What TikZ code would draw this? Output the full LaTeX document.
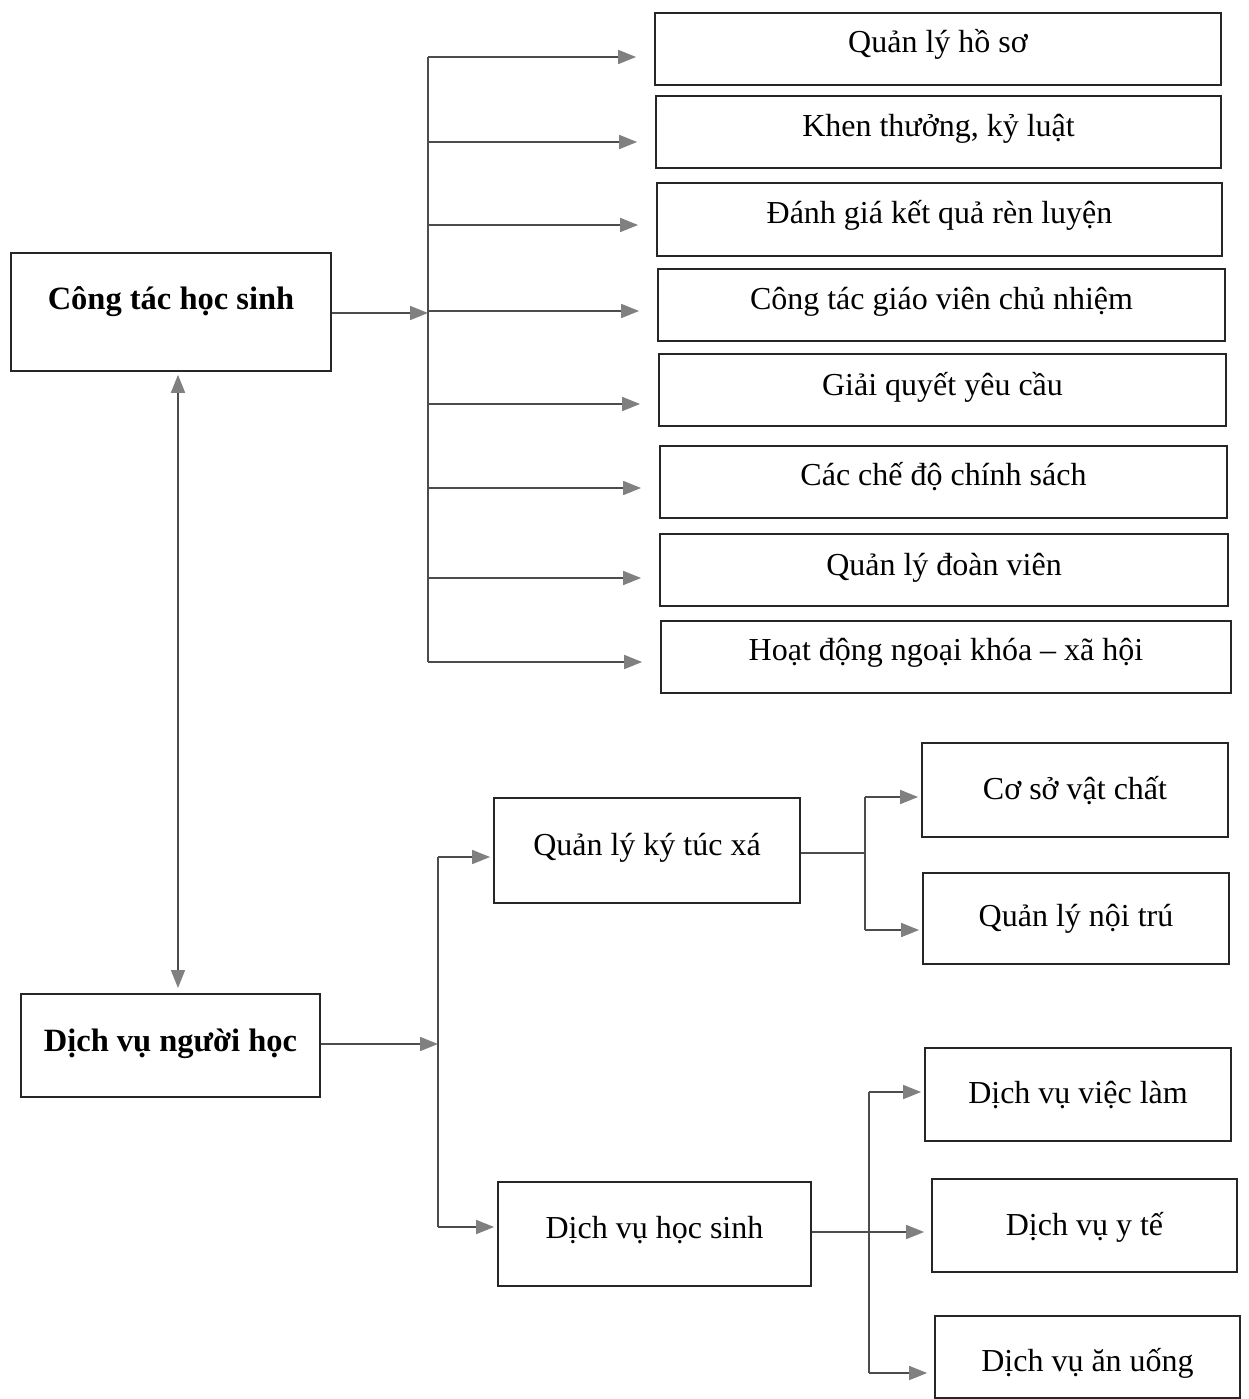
\documentclass[tikz,border=0pt]{standalone}
\usepackage{fontspec}
\setmainfont{Liberation Serif}
\usetikzlibrary{arrows.meta}
\begin{document}
\begin{tikzpicture}[x=1pt,y=-1pt,
  bx/.style={draw=black!85,line width=1.8pt,inner sep=0pt,anchor=north,
    font=\fontsize{32}{37}\selectfont},
  bbx/.style={bx,font=\fontsize{32.5}{37}\selectfont\bfseries},
  conn/.style={draw=black!70,line width=1.7pt},
  arr/.style={conn,-{Triangle[length=18pt,width=14pt,color=black!50]}},
  darr/.style={conn,{Triangle[length=18pt,width=14pt,color=black!50]}-{Triangle[length=18pt,width=14pt,color=black!50]}}]
\useasboundingbox (0,0) rectangle (1248,1399);
% left main boxes
\node[bbx,minimum width=320pt,text height=57pt,text depth=61pt] (cths) at (171,252) {Công tác học sinh};
\node[bbx,minimum width=299pt,text height=58pt,text depth=45pt] (dvnh) at (170.5,993) {Dịch vụ người học};
% right column boxes
\node[bx,minimum width=566pt,text height=40pt,text depth=32pt] (qlhs) at (938,12) {Quản lý hồ sơ};
\node[bx,minimum width=565pt,text height=41pt,text depth=31pt] (ktkl) at (938.5,95) {Khen thưởng, kỷ luật};
\node[bx,minimum width=565pt,text height=41pt,text depth=32pt] (dgkq) at (939.5,182) {Đánh giá kết quả rèn luyện};
\node[bx,minimum width=567pt,text height=41pt,text depth=31pt] (ctgv) at (941.5,268) {Công tác giáo viên chủ nhiệm};
\node[bx,minimum width=567pt,text height=42pt,text depth=30pt] (gqyc) at (942.5,353) {Giải quyết yêu cầu};
\node[bx,minimum width=567pt,text height=40pt,text depth=32pt] (ccd) at (943.5,445) {Các chế độ chính sách};
\node[bx,minimum width=568pt,text height=42pt,text depth=30pt] (qldv) at (944,533) {Quản lý đoàn viên};
\node[bx,minimum width=570pt,text height=40pt,text depth=32pt] (hdnk) at (946,620) {Hoạt động ngoại khóa -- xã hội};
% lower boxes
\node[bx,minimum width=306pt,text height=58pt,text depth=47pt] (ktx) at (647,797) {Quản lý ký túc xá};
\node[bx,minimum width=313pt,text height=57pt,text depth=47pt] (dvhs) at (654.5,1181) {Dịch vụ học sinh};
\node[bx,minimum width=306pt,text height=57pt,text depth=37pt] (csvc) at (1075,742) {Cơ sở vật chất};
\node[bx,minimum width=306pt,text height=54pt,text depth=37pt] (qlnt) at (1076,872) {Quản lý nội trú};
\node[bx,minimum width=306pt,text height=56pt,text depth=37pt] (dvvl) at (1078,1047) {Dịch vụ việc làm};
\node[bx,minimum width=305pt,text height=57pt,text depth=36pt] (dvyt) at (1084.5,1178) {Dịch vụ y tế};
\node[bx,minimum width=305pt,text height=56pt,text depth=26pt] (dvau) at (1087.5,1315) {Dịch vụ ăn uống};
% bus 1
\coordinate (b0) at (428,313);
\coordinate (t1) at (428,57);
\coordinate (t2) at (428,142);
\coordinate (t3) at (428,225);
\coordinate (t4) at (428,311);
\coordinate (t5) at (428,404);
\coordinate (t6) at (428,488);
\coordinate (t7) at (428,578);
\coordinate (t8) at (428,662);
\draw[arr,shorten >=0pt] (cths.east |- b0) -- (b0);
\draw[conn] (t1) -- (t8);
\foreach \t/\b in {t1/qlhs,t2/ktkl,t3/dgkq,t4/ctgv,t5/gqyc,t6/ccd,t7/qldv,t8/hdnk}
  \draw[arr,shorten >=18pt] (\t) -- (\t -| \b.west);
% double arrow
\coordinate (dx) at (178,0);
\draw[darr,shorten <=3pt,shorten >=5pt] (cths.south -| dx) -- (dvnh.north -| dx);
% bus 2
\coordinate (m0) at (438,1044);
\coordinate (u1) at (438,857);
\coordinate (u2) at (438,1227);
\draw[arr] (dvnh.east |- m0) -- (m0);
\draw[conn] (u1) -- (u2);
\draw[arr,shorten >=3pt] (u1) -- (u1 -| ktx.west);
\draw[arr,shorten >=3pt] (u2) -- (u2 -| dvhs.west);
% bus 3
\coordinate (k0) at (865,853);
\coordinate (k1) at (865,797);
\coordinate (k2) at (865,930);
\draw[conn] (ktx.east |- k0) -- (k0);
\draw[conn] (k1) -- (k2);
\draw[arr,shorten >=3pt] (k1) -- (k1 -| csvc.west);
\draw[arr,shorten >=3pt] (k2) -- (k2 -| qlnt.west);
% bus 4
\coordinate (w0) at (811,1232);
\coordinate (v1) at (869,1092);
\coordinate (v2) at (869,1373);
\draw[arr,shorten >=7pt] (dvhs.east |- w0) -- (w0 -| dvyt.west);
\draw[conn] (v1) -- (v2);
\draw[arr,shorten >=3pt] (v1) -- (v1 -| dvvl.west);
\draw[arr,shorten >=7pt] (v2) -- (v2 -| dvau.west);
\end{tikzpicture}
\end{document}
